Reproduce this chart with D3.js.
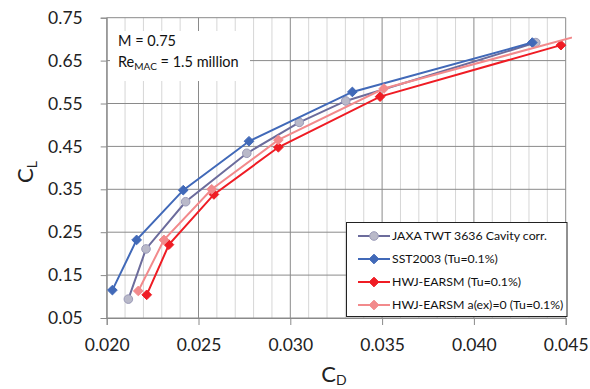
<!DOCTYPE html>
<html>
<head>
<meta charset="utf-8">
<script src="https://cdn.jsdelivr.net/npm/d3@7"></script>
<style>
  html, body { margin: 0; padding: 0; background: #fff; }
  svg { display: block; font-family: Lato, "Open Sans", sans-serif; }
</style>
</head>
<body>
<svg id="chart" width="590" height="389"></svg>
<script>
// Drag polar: lift coefficient vs drag coefficient
const seriesNames = [
  "JAXA TWT 3636 Cavity corr.",
  "SST2003 (Tu=0.1%)",
  "HWJ-EARSM (Tu=0.1%)",
  "HWJ-EARSM a(ex)=0 (Tu=0.1%)"
];

const jaxaCD = [0.02118, 0.02214, 0.02430, 0.02763, 0.03049, 0.03302, 0.04337];
const jaxaCL = [0.094, 0.211, 0.321, 0.434, 0.506, 0.556, 0.692];

const sstCD = [0.02031, 0.02163, 0.02417, 0.02775, 0.03338, 0.04318];
const sstCL = [0.115, 0.232, 0.348, 0.462, 0.577, 0.692];

const earsmCD = [0.02218, 0.02339, 0.02584, 0.02935, 0.03489, 0.04474];
const earsmCL = [0.104, 0.221, 0.338, 0.448, 0.566, 0.686];

const earsm0CD = [0.02172, 0.02312, 0.02572, 0.02935, 0.03510, 0.04580];
const earsm0CL = [0.113, 0.232, 0.350, 0.465, 0.585, 0.709];

const xTicks = [0.020, 0.025, 0.030, 0.035, 0.040, 0.045];
const xMinorTicks = d3.range(20, 46).map(v => v / 1000);
const yTicks = [0.05, 0.15, 0.25, 0.35, 0.45, 0.55, 0.65, 0.75];

const svg = d3.select("#chart");
const plotL = 106.7, plotR = 565.7, plotT = 17.7, plotB = 318;

const x = d3.scaleLinear().domain([0.020, 0.045]).range([plotL, plotR]);
const y = d3.scaleLinear().domain([0.05, 0.75]).range([plotB, plotT]);

const majorGrid = "#8a8a8a", minorGrid = "#d6d6d6";

// minor vertical grid
svg.append("g").selectAll("line")
  .data(xMinorTicks.filter(v => Math.round(v * 1000) % 5 !== 0))
  .join("line")
  .attr("x1", d => x(d)).attr("x2", d => x(d))
  .attr("y1", plotT).attr("y2", plotB)
  .attr("stroke", minorGrid).attr("stroke-width", 1);

// horizontal grid
svg.append("g").selectAll("line")
  .data(yTicks)
  .join("line")
  .attr("x1", plotL).attr("x2", plotR)
  .attr("y1", d => y(d)).attr("y2", d => y(d))
  .attr("stroke", majorGrid).attr("stroke-width", 1);

// major vertical grid
svg.append("g").selectAll("line")
  .data(xTicks)
  .join("line")
  .attr("x1", d => x(d)).attr("x2", d => x(d))
  .attr("y1", plotT).attr("y2", plotB)
  .attr("stroke", majorGrid).attr("stroke-width", 1);

// axes
const xAxis = d3.axisBottom(x).tickValues(xTicks).tickFormat(d3.format(".3f"))
  .tickSize(7).tickPadding(14);
const gx = svg.append("g").attr("transform", `translate(0,${plotB})`).call(xAxis);
gx.select(".domain").attr("stroke", majorGrid);
gx.selectAll(".tick line").attr("stroke", majorGrid);
gx.selectAll(".tick text").attr("font-size", 17.5).attr("fill", "#222")
  .attr("font-family", "Lato, sans-serif");

const yAxis = d3.axisLeft(y).tickValues(yTicks).tickFormat(d3.format(".2f"))
  .tickSize(6).tickPadding(18);
const gy = svg.append("g").attr("transform", `translate(${plotL},0)`).call(yAxis);
gy.select(".domain").attr("stroke", majorGrid);
gy.selectAll(".tick line").attr("stroke", majorGrid);
gy.selectAll(".tick text").attr("font-size", 17.5).attr("fill", "#222")
  .attr("font-family", "Lato, sans-serif");

// axis titles
const xt = svg.append("text").attr("x", 334).attr("y", 382)
  .attr("text-anchor", "middle").attr("fill", "#222").attr("font-size", 22);
xt.append("tspan").text("C");
xt.append("tspan").attr("font-size", 14).attr("dy", 3).text("D");

const yt = svg.append("text").attr("transform", "translate(33,172) rotate(-90)")
  .attr("text-anchor", "middle").attr("fill", "#222").attr("font-size", 22);
yt.append("tspan").text("C");
yt.append("tspan").attr("font-size", 14).attr("dy", 4).text("L");

// clipping
const defs = svg.append("defs");
defs.append("clipPath").attr("id", "lineClip").append("rect")
  .attr("x", plotL).attr("y", plotT - 4).attr("width", 572 - plotL).attr("height", plotB - plotT + 4);
defs.append("clipPath").attr("id", "markClip").append("rect")
  .attr("x", plotL - 6).attr("y", plotT - 6).attr("width", plotR - plotL + 8).attr("height", plotB - plotT + 12);

const series = [
  { name: seriesNames[0], cd: jaxaCD, cl: jaxaCL, line: "#6c6c9c", fill: "#b9b9c9", stroke: "#9a9ab8", shape: "circle" },
  { name: seriesNames[1], cd: sstCD, cl: sstCL, line: "#4169b8", fill: "#4169b8", stroke: "#4169b8", shape: "diamond" },
  { name: seriesNames[2], cd: earsmCD, cl: earsmCL, line: "#ef1c24", fill: "#ef1c24", stroke: "#ef1c24", shape: "diamond" },
  { name: seriesNames[3], cd: earsm0CD, cl: earsm0CL, line: "#f28a8c", fill: "#f28a8c", stroke: "#f28a8c", shape: "diamond" }
];

const line = d3.line().x(d => x(d[0])).y(d => y(d[1]));

function marker(g, s, cx, cy) {
  if (s.shape === "circle") {
    g.append("circle").attr("cx", cx).attr("cy", cy).attr("r", 4.3)
      .attr("fill", s.fill).attr("stroke", s.stroke).attr("stroke-width", 1);
  } else {
    g.append("path").attr("d", d3.symbol(d3.symbolDiamond2, 60)())
      .attr("transform", `translate(${cx},${cy})`)
      .attr("fill", s.fill).attr("stroke", s.stroke).attr("stroke-width", 1);
  }
}

series.forEach(s => {
  const pts = s.cd.map((c, i) => [c, s.cl[i]]);
  const g = svg.append("g");
  g.append("path").attr("d", line(pts)).attr("fill", "none")
    .attr("stroke", s.line).attr("stroke-width", 2).attr("clip-path", "url(#lineClip)");
  const mg = g.append("g").attr("clip-path", "url(#markClip)");
  pts.forEach(p => marker(mg, s, x(p[0]), y(p[1])));
});

// condition box
svg.append("rect").attr("x", 110).attr("y", 31).attr("width", 140).attr("height", 50).attr("fill", "#fff");
svg.append("text").attr("x", 118).attr("y", 46).attr("font-size", 14.5).attr("fill", "#111").text("M = 0.75");
const re = svg.append("text").attr("x", 118).attr("y", 67).attr("font-size", 14.5).attr("fill", "#111");
re.append("tspan").text("Re");
re.append("tspan").attr("font-size", 10).attr("dy", 3).text("MAC");
re.append("tspan").attr("dy", -3).text(" = 1.5 million");

// legend
const lg = svg.append("g");
lg.append("rect").attr("x", 346.5).attr("y", 222.5).attr("width", 220.5).attr("height", 94)
  .attr("fill", "#fff").attr("stroke", "#222").attr("stroke-width", 1);
series.forEach((s, i) => {
  const cy = 236 + i * 23;
  lg.append("line").attr("x1", 358).attr("x2", 390).attr("y1", cy).attr("y2", cy)
    .attr("stroke", s.line).attr("stroke-width", 2);
  marker(lg, s, 374, cy);
  lg.append("text").attr("x", 392).attr("y", cy).attr("dy", "0.35em")
    .attr("font-size", 12.3).attr("fill", "#111").text(s.name);
});
</script>
</body>
</html>
